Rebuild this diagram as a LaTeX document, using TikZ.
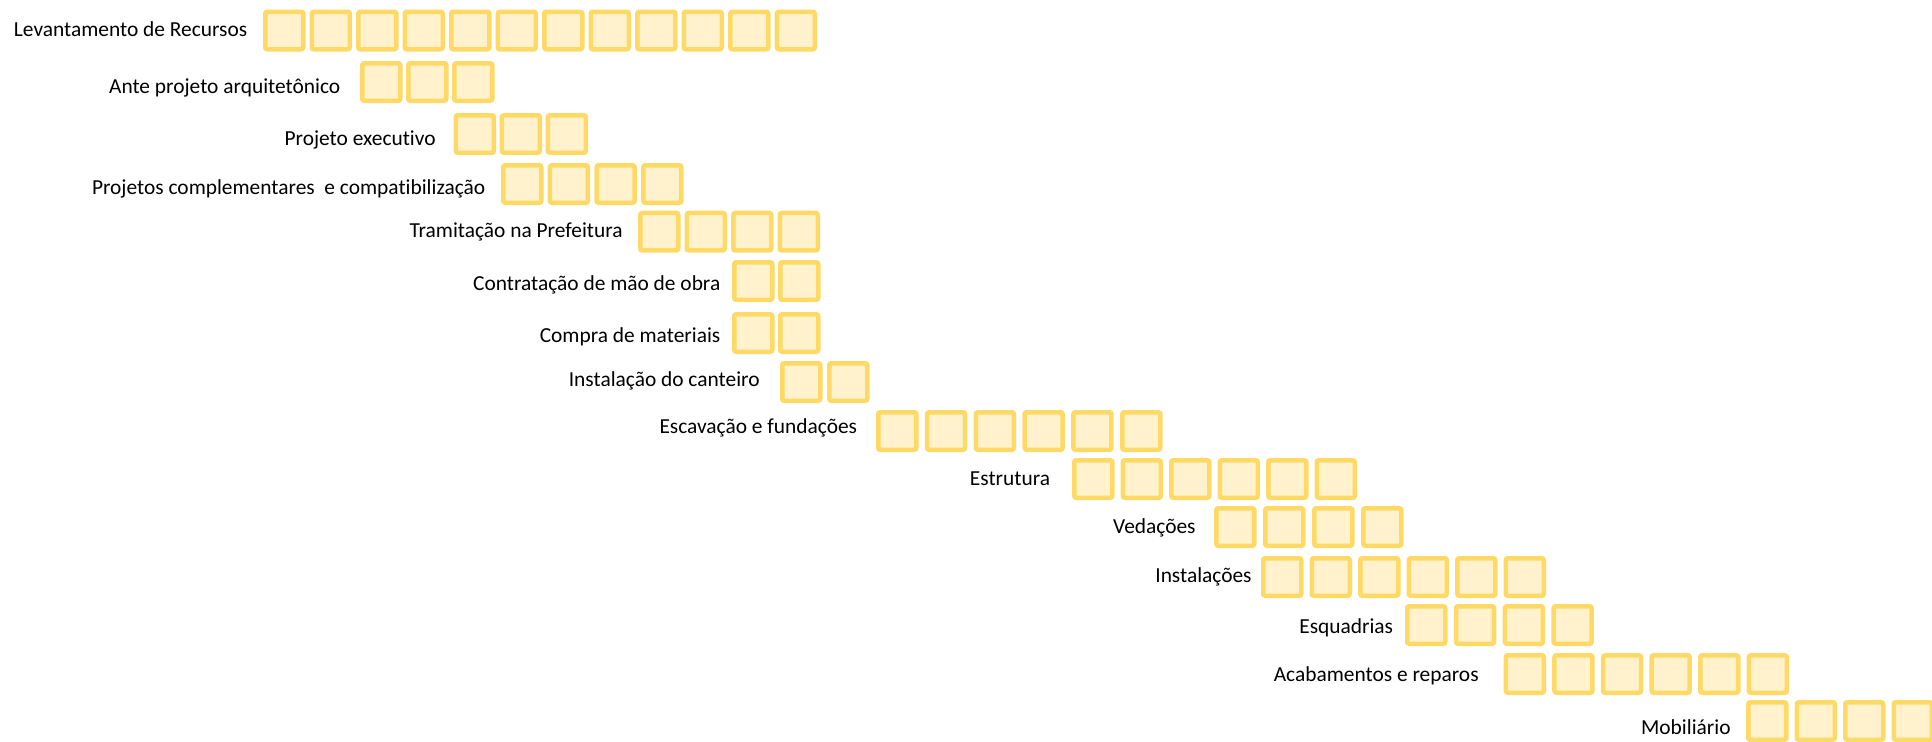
\documentclass[tikz,border=0pt]{standalone}
\usepackage{fontspec}
\setmainfont{Carlito}[Ligatures=NoCommon]
\definecolor{cellborder}{HTML}{FFD966}
\definecolor{cellfill}{HTML}{FFF2CC}
\tikzset{
  cell/.style={draw=cellborder, fill=cellfill, line width=2.25pt, rounded corners=1pt,
    minimum width=19pt, minimum height=18.75pt, inner sep=0pt},
  task/.style={anchor=base east, inner sep=0pt, font=\fontsize{10.7}{12}\selectfont},
}
% #1 id, #2 task name, #3 right end of name, #4 name centre y,
% #5 left edge of first cell, #6 cell pitch, #7 number of cells, #8 cell centre y
\newcommand\taskrow[8]{%
  \node[task] (#1-label) at (#3,#4+7) {#2};
  \foreach \k in {1,...,#7} {
    \node[cell] (#1-\k) at ({#5+21.25+(\k-1)*#6}, #8) {};
  }
}
\begin{document}
\begin{tikzpicture}[x=0.5pt,y=-0.5pt]
  \useasboundingbox (0,0) rectangle (1932,741);
  \taskrow{lev}{Levantamento de Recursos}{247.6}{29.6}{263}{46.5}{12}{30.5}
  \taskrow{ante}{Ante projeto arquitetônico}{340.6}{86}{360}{46}{3}{82}
  \taskrow{exec}{Projeto executivo}{436}{138}{453.6}{46}{3}{134}
  \taskrow{comp}{Projetos complementares~ e compatibilização}{485.7}{187}{501}{46.7}{4}{184}
  \taskrow{pref}{Tramitação na Prefeitura}{623}{230}{638}{46.5}{4}{231.7}
  \taskrow{mao}{Contratação de mão de obra}{720.7}{283}{732}{46}{2}{281}
  \taskrow{mat}{Compra de materiais}{720.7}{335}{732}{46}{2}{333}
  \taskrow{cant}{Instalação do canteiro}{760}{379.5}{780}{47}{2}{382}
  \taskrow{esc}{Escavação e fundações}{857.5}{426}{876}{48.8}{6}{431}
  \taskrow{estr}{Estrutura}{1050.5}{478}{1072}{48.5}{6}{479}
  \taskrow{ved}{Vedações}{1196}{526}{1214}{49}{4}{527}
  \taskrow{inst}{Instalações}{1252}{575}{1261}{48.5}{6}{577}
  \taskrow{esq}{Esquadrias}{1393.5}{626}{1405}{48.8}{4}{625}
  \taskrow{acab}{Acabamentos e reparos}{1479}{674}{1503.6}{48.6}{6}{674}
  \taskrow{mob}{Mobiliário}{1731}{727}{1746}{48.5}{4}{721}
\end{tikzpicture}
\end{document}
